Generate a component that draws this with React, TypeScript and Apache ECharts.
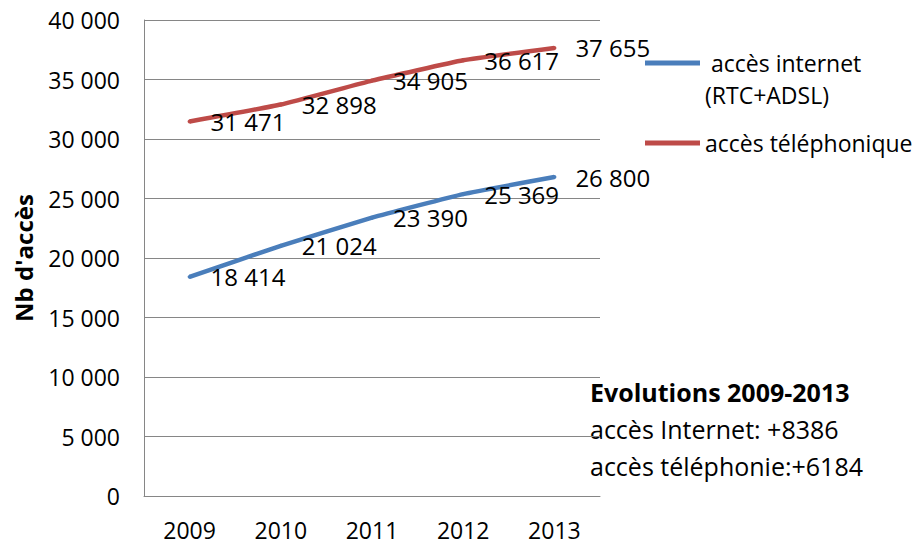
import React, { useEffect, useRef } from "react";
import * as echarts from "echarts";

const years = ["2009", "2010", "2011", "2012", "2013"];
const internet = [18414, 21024, 23390, 25369, 26800];
const telephone = [31471, 32898, 34905, 36617, 37655];
const internetName = "accès internet (RTC+ADSL)";
const telephoneName = "accès téléphonique";
const yMin = 0;
const yMax = 40000;
const yInterval = 5000;

const FONT = "'Open Sans', 'Noto Sans', sans-serif";

const fmt = (v: number) => String(v).replace(/\B(?=(\d{3})+(?!\d))/g, " ");

export default function App() {
  const ref = useRef<HTMLDivElement>(null);
  useEffect(() => {
    if (!ref.current) return;
    const chart = echarts.init(ref.current, undefined, { renderer: "svg" });
    const dInternet = internet[internet.length - 1] - internet[0];
    const dTel = telephone[telephone.length - 1] - telephone[0];
    const labelCfg = {
      show: true,
      position: "right" as const,
      distance: 19,
      color: "#000",
      fontFamily: FONT,
      fontSize: 24,
      formatter: (p: any) => fmt(p.value),
    };
    chart.setOption({
      animation: false,
      textStyle: { fontFamily: FONT },
      grid: { left: 144, right: 320, top: 20, bottom: 48, containLabel: false },
      legend: {
        left: 645,
        top: 15,
        orient: "vertical",
        icon: "rect",
        itemWidth: 55,
        itemHeight: 5,
        itemGap: 16,
        padding: 0,
        textStyle: { fontFamily: FONT, fontSize: 23, color: "#000", lineHeight: 32 },
        formatter: (name: string) =>
          name === internetName ? " \n accès internet\n(RTC+ADSL)" : name,
        data: [{ name: internetName }, { name: telephoneName }],
      },
      xAxis: {
        type: "category",
        data: years,
        boundaryGap: true,
        axisLine: { show: true, lineStyle: { color: "#868686", width: 1 } },
        axisTick: { show: false },
        axisLabel: { color: "#000", fontFamily: FONT, fontSize: 23, margin: 22 },
      },
      yAxis: {
        type: "value",
        min: yMin,
        max: yMax,
        interval: yInterval,
        name: "Nb d'accès",
        nameLocation: "middle",
        nameGap: 109,
        nameTextStyle: { color: "#000", fontFamily: FONT, fontSize: 24, fontWeight: "bold" },
        axisLine: { show: true, lineStyle: { color: "#868686", width: 1 } },
        axisTick: { show: false },
        splitLine: { show: true, lineStyle: { color: "#868686", width: 1 } },
        axisLabel: {
          color: "#000",
          fontFamily: FONT,
          fontSize: 23,
          margin: 24,
          formatter: (v: number) => fmt(v),
        },
      },
      series: [
        {
          name: internetName,
          type: "line",
          data: internet,
          smooth: 0.12,
          symbol: "circle",
          symbolSize: 4,
          showSymbol: true,
          itemStyle: { color: "#4A7EBB" },
          lineStyle: { color: "#4A7EBB", width: 4.5 },
          label: labelCfg,
        },
        {
          name: telephoneName,
          type: "line",
          data: telephone,
          smooth: 0.12,
          symbol: "circle",
          symbolSize: 4,
          showSymbol: true,
          itemStyle: { color: "#BE4B48" },
          lineStyle: { color: "#BE4B48", width: 4.5 },
          label: labelCfg,
        },
      ],
      graphic: [
        {
          type: "text",
          left: 590,
          top: 373,
          style: {
            text: `{b|Evolutions ${years[0]}-${years[years.length - 1]}}\n{n|accès Internet: +${dInternet}}\n{n|accès téléphonie:+${dTel}}`,
            fill: "#000",
            fontFamily: FONT,
            fontSize: 25,
            lineHeight: 37,
            rich: {
              b: { fontFamily: FONT, fontSize: 25, fontWeight: "bold", lineHeight: 37, fill: "#000" },
              n: { fontFamily: FONT, fontSize: 25, lineHeight: 37, fill: "#000" },
            },
          },
        },
      ],
    });
    return () => chart.dispose();
  }, []);
  return (
    <div
      ref={ref}
      style={{ position: "fixed", left: 0, top: 0, width: 920, height: 544, background: "#fff" }}
    />
  );
}
